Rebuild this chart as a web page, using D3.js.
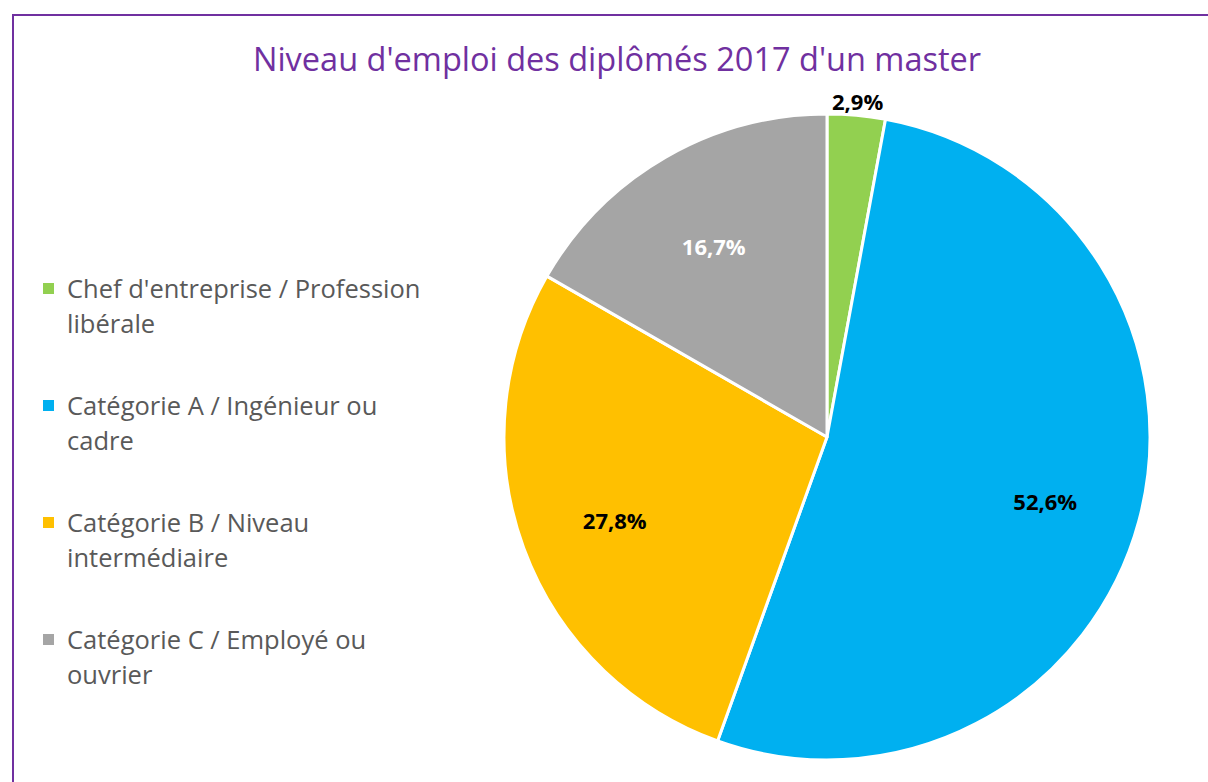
<!DOCTYPE html>
<html>
<head>
<meta charset="utf-8">
<script src="https://cdn.jsdelivr.net/npm/d3@7"></script>
<style>
  html, body { margin: 0; padding: 0; background: #fff; overflow: hidden; }
  svg { display: block; font-family: "Open Sans", Lato, sans-serif; }
</style>
</head>
<body>
<div id="chart"></div>
<script>
const categories = [
  "Chef d'entreprise / Profession libérale",
  "Catégorie A / Ingénieur ou cadre",
  "Catégorie B / Niveau intermédiaire",
  "Catégorie C / Employé ou ouvrier"
];
const values = [2.9, 52.6, 27.8, 16.7];
const colors = ["#92D050", "#00B0F0", "#FFC000", "#A5A5A5"];
const labelColors = ["#000", "#000", "#000", "#fff"];
// legend text split onto two lines as in the picture
const legendLines = [
  ["Chef d'entreprise / Profession", "libérale"],
  ["Catégorie A / Ingénieur ou", "cadre"],
  ["Catégorie B / Niveau", "intermédiaire"],
  ["Catégorie C / Employé ou", "ouvrier"]
];

const width = 1208, height = 782;
const svg = d3.select('#chart').append('svg')
  .attr('width', width)
  .attr('height', height);

// frame (runs off the right and bottom edges in the original)
svg.append('rect')
  .attr('x', 13).attr('y', 15)
  .attr('width', 1220).attr('height', 800)
  .attr('fill', 'none')
  .attr('stroke', '#7030A0')
  .attr('stroke-width', 2);

svg.append('text')
  .attr('x', 617).attr('y', 71)
  .attr('text-anchor', 'middle')
  .attr('font-size', '32.5px')
  .attr('fill', '#7030A0')
  .text("Niveau d'emploi des diplômés 2017 d'un master");

// pie
const cx = 827, cy = 437, radius = 323;
const g = svg.append('g').attr('transform', `translate(${cx},${cy})`);

const pie = d3.pie().value(d => d).sort(null);
const arcs = pie(values);
const arc = d3.arc().innerRadius(0).outerRadius(radius);
const labelArc = d3.arc().innerRadius(radius * 0.7).outerRadius(radius * 0.7);
const outerArc = d3.arc().innerRadius(radius + 13).outerRadius(radius + 13);

g.selectAll('path')
  .data(arcs)
  .enter()
  .append('path')
  .attr('d', arc)
  .attr('fill', (d, i) => colors[i])
  .attr('stroke', '#fff')
  .attr('stroke-width', 3)
  .attr('stroke-linejoin', 'round');

const fmt = v => v.toFixed(1).replace('.', ',') + '%';

g.selectAll('.label')
  .data(arcs)
  .enter()
  .append('text')
  .attr('class', 'label')
  .attr('transform', (d, i) => {
    // the smallest slice gets its label outside, like the original
    const p = values[i] < 5 ? outerArc.centroid(d) : labelArc.centroid(d);
    return `translate(${p[0]},${p[1] + (values[i] < 5 ? 0 : 6)})`;
  })
  .attr('text-anchor', 'middle')
  .attr('dy', '0.35em')
  .attr('font-size', '22px')
  .attr('font-weight', 'bold')
  .attr('fill', (d, i) => labelColors[i])
  .text(d => fmt(d.data));

// legend
const legend = svg.append('g').attr('transform', 'translate(43,289)');
const item = legend.selectAll('g')
  .data(categories)
  .enter()
  .append('g')
  .attr('transform', (d, i) => `translate(0,${i * 117})`);

item.append('rect')
  .attr('x', 0).attr('y', -6)
  .attr('width', 11).attr('height', 11)
  .attr('fill', (d, i) => colors[i]);

item.append('text')
  .attr('x', 24)
  .attr('font-size', '25.5px')
  .attr('fill', '#595959')
  .selectAll('tspan')
  .data((d, i) => legendLines[i])
  .enter()
  .append('tspan')
  .attr('x', 24)
  .attr('y', (d, j) => j * 35)
  .attr('dy', '0.35em')
  .text(d => d);
</script>
</body>
</html>
